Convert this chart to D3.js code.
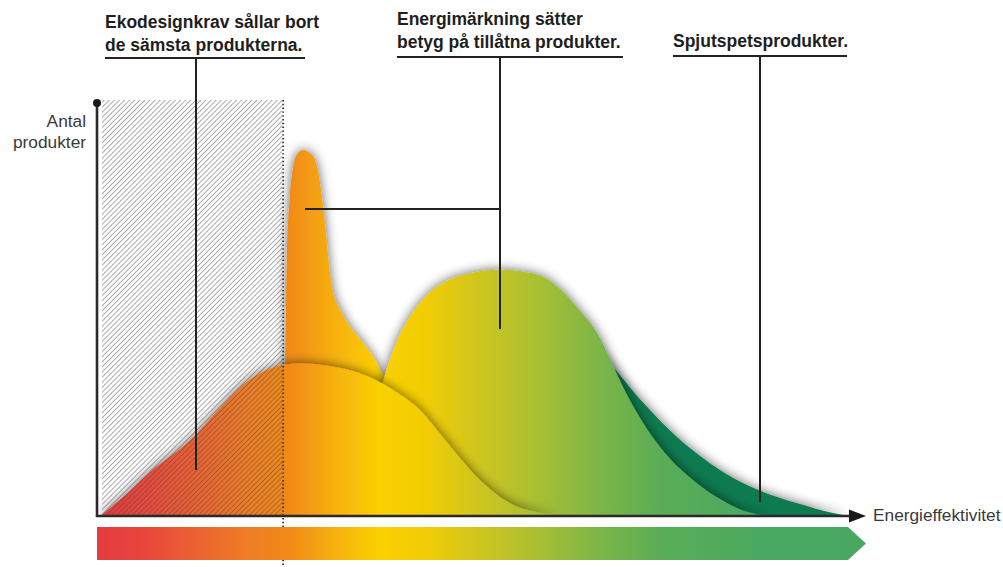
<!DOCTYPE html>
<html><head><meta charset="utf-8">
<script src="https://cdn.jsdelivr.net/npm/d3@7"></script>
<style>body{margin:0;background:#fff}svg{display:block}</style>
</head><body><svg id="c" width="1003" height="567"></svg>
<script>
// ---- data (x: energieffektivitet 0-100, y: antal produkter 0-100) ----
const darkGreenCurve = [[48.8,0],[55.3,28.1],[60.5,43.8],[64.4,41.4],[66.8,37.3],[71.4,27.4],[75.8,19.1],[80.1,12.8],[84.4,8.0],[88.9,4.6],[93.2,2.2],[96.2,0.7],[98.2,0]];
const spikeCurve = [[22.6,3.9],[23.9,18.4],[24.6,37.0],[24.8,61.3],[25.2,77.2],[25.6,84.0],[26.1,87.4],[26.9,88.6],[28.1,87.4],[28.8,84.5],[29.4,77.2],[29.9,69.2],[30.3,61.3],[30.8,54.7],[31.8,49.9],[33.1,45.8],[34.8,41.9],[36.6,37.0],[37.4,34.0],[39.6,26.5],[42.2,16.0],[45.5,6.3],[48.8,0]];
const labelCurve = [[31.8,0],[34.4,11.1],[35.9,22.0],[37.4,32.7],[39.0,41.4],[40.9,48.2],[42.9,53.0],[45.2,56.4],[48.8,58.8],[52.7,59.6],[55.9,59.1],[58.3,57.9],[60.5,55.0],[62.7,50.6],[65.7,43.3],[67.1,37.8],[69.3,29.3],[73.6,16.7],[77.9,8.7],[82.4,3.1],[84.97,1.0],[87.97,0]];
const frontCurve = [[0.4,0],[3.4,4.6],[6.9,10.6],[12.2,18.4],[16.1,26.2],[18.7,31.2],[21.3,34.6],[24.3,36.6],[26.5,37.0],[30.4,36.3],[34.3,34.6],[38.7,30.5],[42.2,25.7],[45.2,19.1],[49.7,9.4],[54.0,3.1],[58.8,0.5],[60.5,0]];
const ecoLimit = 24.2;   // ekodesignkrav: gräns
const annotationTexts = [
  ["Ekodesignkrav sållar bort", "de sämsta produkterna."],
  ["Energimärkning sätter", "betyg på tillåtna produkter."],
  ["Spjutspetsprodukter."]
];
const yAxisLabel = ["Antal", "produkter"];
const xAxisLabel = "Energieffektivitet";

// ---- layout ----
const svg = d3.select("#c");
const x = d3.scaleLinear().domain([0,100]).range([97,862]);
const y = d3.scaleLinear().domain([0,100]).range([516,103]);
const defs = svg.append("defs");

const grad = defs.append("linearGradient").attr("id","g").attr("gradientUnits","userSpaceOnUse")
  .attr("x1",97).attr("x2",862).attr("y1",0).attr("y2",0);
[[0,"#e53c3f"],[0.056,"#e8443c"],[0.135,"#ec6430"],[0.2,"#ef7e24"],[0.252,"#f18a16"],[0.31,"#f6b00f"],[0.37,"#fbd100"],[0.435,"#efcc06"],[0.5,"#cfc520"],[0.58,"#a6bf33"],[0.657,"#7db548"],[0.736,"#5aad56"],[0.867,"#4aa960"],[1,"#48a862"]]
  .forEach(s=>grad.append("stop").attr("offset",s[0]).attr("stop-color",s[1]));

const f = defs.append("filter").attr("id","sh").attr("x","-30%").attr("y","-30%").attr("width","160%").attr("height","160%");
f.append("feGaussianBlur").attr("in","SourceAlpha").attr("stdDeviation",6).attr("result","b");
f.append("feOffset").attr("in","b").attr("dx",0).attr("dy",0).attr("result","o");
f.append("feComponentTransfer").attr("in","o").attr("result","s").append("feFuncA").attr("type","linear").attr("slope",0.62);
const fm = f.append("feMerge"); fm.append("feMergeNode").attr("in","s"); fm.append("feMergeNode").attr("in","SourceGraphic");

defs.append("clipPath").attr("id","plot").append("rect").attr("x",97).attr("y",40).attr("width",800).attr("height",476);

const pat = defs.append("pattern").attr("id","hatch").attr("patternUnits","userSpaceOnUse")
  .attr("width",3.6).attr("height",10).attr("patternTransform","rotate(45)");
pat.append("line").attr("x1",0.5).attr("y1",0).attr("x2",0.5).attr("y2",10).attr("stroke","#4a4a4a").attr("stroke-width",0.9).attr("stroke-opacity",0.55);

const area = d3.area().x(d=>x(d[0])).y0(y(0)).y1(d=>y(d[1])).curve(d3.curveMonotoneX);

const plot = svg.append("g").attr("clip-path","url(#plot)");
const series = [
  {d:darkGreenCurve, fill:"#0a7a4f"},
  {d:spikeCurve, fill:"url(#g)"},
  {d:labelCurve, fill:"url(#g)"},
  {d:frontCurve, fill:"url(#g)"}
];
series.forEach(s=>plot.append("path").datum(s.d).attr("d",area).attr("fill",s.fill).attr("filter","url(#sh)"));

// hatched region (products removed by ecodesign)
svg.append("rect").attr("x",102).attr("y",100).attr("width",x(ecoLimit)-102).attr("height",416).attr("fill","url(#hatch)");
svg.append("line").attr("x1",x(ecoLimit)+1).attr("x2",x(ecoLimit)+1).attr("y1",100).attr("y2",567)
  .attr("stroke","#333").attr("stroke-width",1.8).attr("stroke-dasharray","1.4,2.4");

// bottom gradient arrow bar
svg.append("path").attr("d","M97,527 L848,527 L866,543.5 L848,560 L97,560 Z").attr("fill","url(#g)");

// axes
svg.append("line").attr("x1",97).attr("x2",97).attr("y1",103).attr("y2",517).attr("stroke","#2a2a2a").attr("stroke-width",2.6);
svg.append("circle").attr("cx",97).attr("cy",103).attr("r",4).attr("fill","#1a1a1a");
svg.append("line").attr("x1",96).attr("x2",852).attr("y1",516).attr("y2",516).attr("stroke","#2a2a2a").attr("stroke-width",2.6);
svg.append("path").attr("d","M849,509.5 L866,516 L849,522.5 Z").attr("fill","#1a1a1a");

const font = "'Liberation Sans', Arial, sans-serif";
svg.append("text").attr("x",873).attr("y",521).attr("font-family",font).attr("font-size",17.3).attr("fill","#3a3a3a").text(xAxisLabel);
const yl = svg.append("text").attr("text-anchor","end").attr("font-family",font).attr("font-size",17.3).attr("fill","#3a3a3a");
yAxisLabel.forEach((t,i)=>yl.append("tspan").attr("x",86).attr("y",127+i*20.5).text(t));

// annotations
const ann = [
  {x:105, y0:28, ul:[105,305], uy:58, lead:[[196,58],[196,470]]},
  {x:397, y0:25, ul:[397,623], uy:57, lead:[[500,57],[500,329]], branch:[[305,209],[500,209]]},
  {x:673, y0:47, ul:[673,847], uy:56, lead:[[760,56],[760,502]]}
];
ann.forEach((a,i)=>{
  const lines = annotationTexts[i];
  const t = svg.append("text").attr("font-family",font).attr("font-weight","bold").attr("font-size",17.5).attr("fill","#1e1e1e");
  lines.forEach((l,j)=>t.append("tspan").attr("x",a.x).attr("y",a.y0+j*22.5).text(l));
  svg.append("line").attr("x1",a.ul[0]).attr("x2",a.ul[1]).attr("y1",a.uy).attr("y2",a.uy).attr("stroke","#222").attr("stroke-width",2);
  svg.append("line").attr("x1",a.lead[0][0]).attr("x2",a.lead[1][0]).attr("y1",a.lead[0][1]).attr("y2",a.lead[1][1]).attr("stroke","#222").attr("stroke-width",2);
  if(a.branch) svg.append("line").attr("x1",a.branch[0][0]).attr("x2",a.branch[1][0]).attr("y1",a.branch[0][1]).attr("y2",a.branch[1][1]).attr("stroke","#222").attr("stroke-width",2);
});
</script></body></html>
